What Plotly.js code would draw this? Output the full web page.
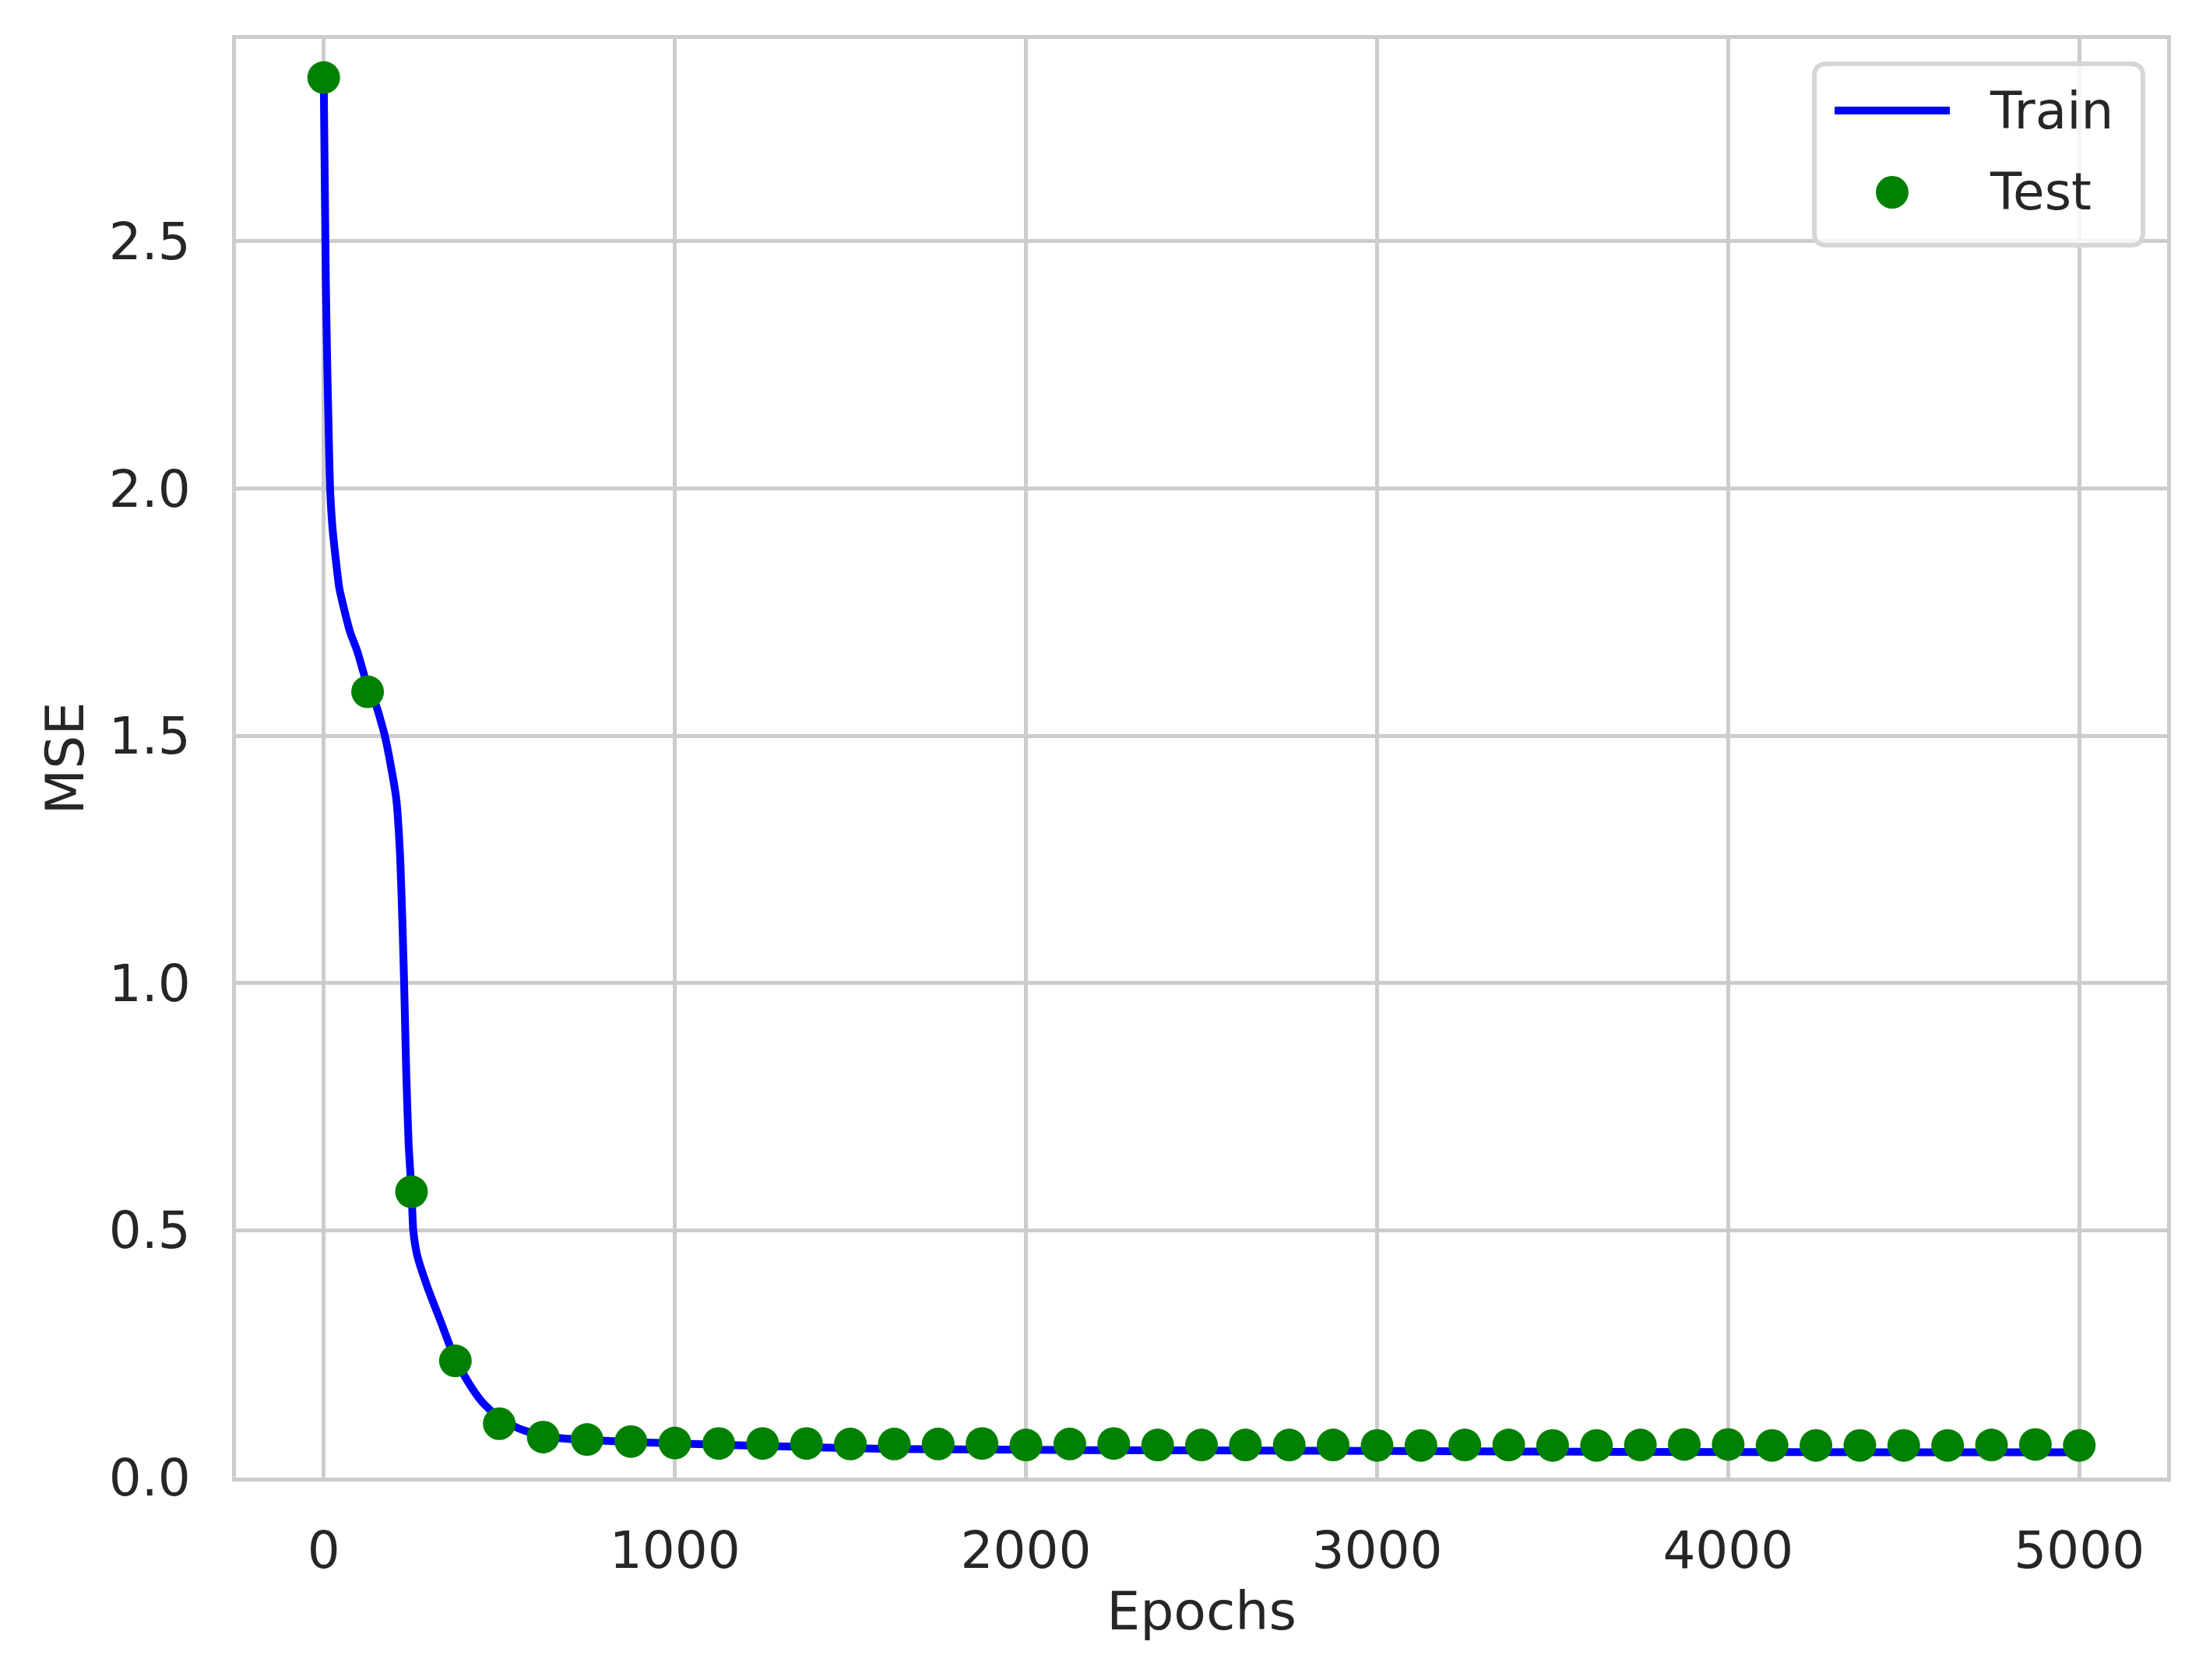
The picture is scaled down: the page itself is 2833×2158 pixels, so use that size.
<!DOCTYPE html>
<html>
<head>
<meta charset="utf-8">
<script src="https://cdn.plot.ly/plotly-3.0.1.min.js"></script>
<style>html,body{margin:0;padding:0;background:#fff;}#chart{width:2833px;height:2158px;}</style>
</head>
<body>
<div id="chart"></div>
<script>
// ---- data ----
const trainEpochs = [0, 4, 6, 10, 14, 18, 25, 37, 44, 55, 75, 96, 125, 150, 174, 196, 207, 218, 225, 229, 235, 242, 250, 255, 266, 296, 333, 374, 414, 451, 500, 560, 627, 750, 924, 1241, 1617, 2180, 2800, 3700, 4500, 5000];
const trainMSE    = [2.83, 2.55, 2.42, 2.25, 2.12, 2.00, 1.92, 1.84, 1.80, 1.765, 1.71, 1.67, 1.60, 1.56, 1.50, 1.42, 1.37, 1.25, 1.10, 1.00, 0.82, 0.67, 0.58, 0.50, 0.45, 0.384, 0.316, 0.24, 0.19, 0.153, 0.12, 0.098, 0.083, 0.076, 0.071, 0.064, 0.058, 0.0556, 0.0545, 0.052, 0.051, 0.051];

const testEpochs = [0, 125, 250, 375, 500, 625, 750, 875, 1000, 1125, 1250, 1375, 1500, 1625, 1750, 1875, 2000, 2125, 2250, 2375, 2500, 2625, 2750, 2875, 3000, 3125, 3250, 3375, 3500, 3625, 3750, 3875, 4000, 4125, 4250, 4375, 4500, 4625, 4750, 4875, 5000];
const testMSE    = [2.831, 1.589, 0.578, 0.236, 0.109, 0.082, 0.077, 0.073, 0.070, 0.069, 0.069, 0.069, 0.068, 0.068, 0.068, 0.069, 0.066, 0.068, 0.069, 0.066, 0.066, 0.066, 0.066, 0.066, 0.065, 0.065, 0.066, 0.066, 0.065, 0.065, 0.066, 0.067, 0.067, 0.065, 0.065, 0.065, 0.065, 0.065, 0.066, 0.067, 0.065];

const xTickVals = [0, 1000, 2000, 3000, 4000, 5000];
const yTickVals = [0, 0.5, 1.0, 1.5, 2.0, 2.5];
const seriesNames = ["Train", "Test"];
const xLabel = "Epochs";
const yLabel = "MSE";

// ---- layout geometry (pixels) ----
const W = 2833, H = 2158;
const L = 303, R = 2783, T = 50, B = 1898;
const FONT = "DejaVu Sans";
const TXT = "#262626";
const GRID = "#cccccc";

const px = x => (x - L) / (R - L);
const py = y => (B - y) / (B - T);

function roundRectPath(x0, y0, x1, y1, r) {
  const P = (x, y) => px(x) + "," + py(y);
  return "M" + P(x0 + r, y0) + " L" + P(x1 - r, y0) + " Q" + P(x1, y0) + " " + P(x1, y0 + r) +
         " L" + P(x1, y1 - r) + " Q" + P(x1, y1) + " " + P(x1 - r, y1) +
         " L" + P(x0 + r, y1) + " Q" + P(x0, y1) + " " + P(x0, y1 - r) +
         " L" + P(x0, y0 + r) + " Q" + P(x0, y0) + " " + P(x0 + r, y0) + " Z";
}

const traces = [
  {
    x: trainEpochs, y: trainMSE, name: seriesNames[0], type: "scatter", mode: "lines",
    line: {color: "#0000ff", width: 10, shape: "spline", smoothing: 0.5}, showlegend: false, hoverinfo: "skip"
  },
  {
    x: testEpochs, y: testMSE, name: seriesNames[1], type: "scatter", mode: "markers",
    marker: {color: "#008000", size: 42, line: {width: 0}}, showlegend: false, hoverinfo: "skip"
  }
];

const legendBox = {x0: 2330, y0: 82, x1: 2752, y1: 315, r: 16};
const mr = 21;

const layout = {
  width: W, height: H, autosize: false,
  paper_bgcolor: "#ffffff", plot_bgcolor: "#ffffff",
  margin: {l: L, r: W - R, t: T, b: H - B, pad: 0},
  font: {family: FONT, color: TXT, size: 66},
  showlegend: false,
  xaxis: {
    range: [-250, 5250], tickvals: xTickVals, ticktext: xTickVals.map(String),
    showgrid: true, gridcolor: GRID, gridwidth: 5, zeroline: false,
    showline: true, linecolor: GRID, linewidth: 5, mirror: true,
    ticks: "outside", ticklen: 32, tickcolor: "rgba(0,0,0,0)",
    tickfont: {family: FONT, size: 66, color: TXT},
    title: {text: xLabel, font: {family: FONT, size: 68, color: TXT}, standoff: 18}
  },
  yaxis: {
    range: [0, 2.909], tickvals: yTickVals, tickformat: ".1f",
    showgrid: true, gridcolor: GRID, gridwidth: 5, zeroline: false,
    showline: true, linecolor: GRID, linewidth: 5, mirror: true,
    ticks: "outside", ticklen: 40, tickcolor: "rgba(0,0,0,0)",
    tickfont: {family: FONT, size: 66, color: TXT},
    title: {text: yLabel, font: {family: FONT, size: 68, color: TXT}, standoff: 12}
  },
  shapes: [
    {type: "path", xref: "paper", yref: "paper", path: roundRectPath(legendBox.x0, legendBox.y0, legendBox.x1, legendBox.y1, legendBox.r),
     fillcolor: "rgba(255,255,255,0.8)", line: {color: "#d6d6d6", width: 6}, layer: "above"},
    {type: "line", xref: "paper", yref: "paper", x0: px(2356), x1: px(2504), y0: py(142), y1: py(142),
     line: {color: "#0000ff", width: 10}, layer: "above"},
    {type: "circle", xref: "paper", yref: "paper", x0: px(2430 - mr), x1: px(2430 + mr), y0: py(247 - mr), y1: py(247 + mr),
     fillcolor: "#008000", line: {width: 0}, layer: "above"}
  ],
  annotations: [
    {xref: "paper", yref: "paper", x: px(2553), y: py(142), xanchor: "left", yanchor: "middle",
     text: seriesNames[0], showarrow: false, font: {family: FONT, size: 66, color: TXT}},
    {xref: "paper", yref: "paper", x: px(2553), y: py(247), xanchor: "left", yanchor: "middle",
     text: seriesNames[1], showarrow: false, font: {family: FONT, size: 66, color: TXT}}
  ]
};

Plotly.newPlot("chart", traces, layout, {staticPlot: true, displayModeBar: false});
</script>
</body>
</html>
